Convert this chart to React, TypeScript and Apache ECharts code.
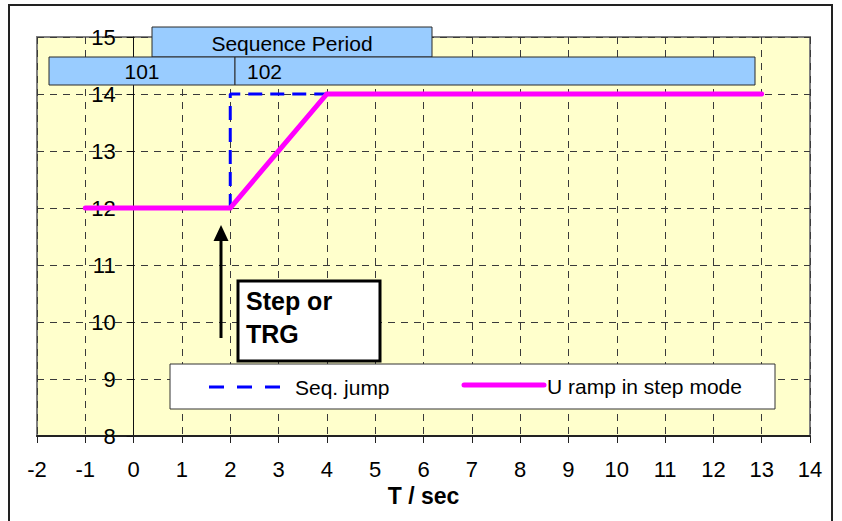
import React, { useEffect, useRef } from "react";
import * as echarts from "echarts";

const seriesNames = ["Seq. jump", "U ramp in step mode"];
const seqJumpX = [2, 2, 4];
const seqJumpY = [12, 14, 14];
const uRampX = [-1, 2, 4, 13];
const uRampY = [12, 12, 14, 14];
const periodTitle = "Sequence Period";
const periodLabels = ["101", "102"];
const noteLines = ["Step or", "TRG"];
const xName = "T / sec";
const xRange = [-2, 14];
const yRange = [8, 15];

const FONT = "Liberation Sans, Arial, sans-serif";
const GRID_LEFT = 37;
const GRID_RIGHT_PX = 810;

export default function App() {
  const ref = useRef<HTMLDivElement>(null);
  useEffect(() => {
    if (!ref.current) return;
    const chart = echarts.init(ref.current, null, { renderer: "svg" });
    const dashGrid = { show: true, lineStyle: { color: "#3a3a3a", width: 1, type: [7, 6] as any } };
    const seq = seqJumpX.map((x, i) => [x, seqJumpY[i]]);
    const ramp = uRampX.map((x, i) => [x, uRampY[i]]);
    // y axis sits at x = 0 of the x scale
    const zeroOffset = ((0 - xRange[0]) / (xRange[1] - xRange[0])) * (GRID_RIGHT_PX - GRID_LEFT);
    const txt = (text: string, x: number, y: number, size: number, align = "left", bold = false) => ({
      type: "text",
      z: 101,
      style: {
        text,
        x,
        y,
        fill: "#000",
        fontSize: size,
        fontFamily: FONT,
        fontWeight: bold ? "bold" : "normal",
        textAlign: align,
        textVerticalAlign: "middle",
      },
    });
    chart.setOption({
      animation: false,
      backgroundColor: "#ffffff",
      grid: {
        left: GRID_LEFT,
        top: 37,
        right: 842 - GRID_RIGHT_PX,
        bottom: 85,
        show: true,
        backgroundColor: "#FFFFCC",
        borderColor: "#808080",
        borderWidth: 2,
        outerBoundsMode: "none",
        containLabel: false,
      },
      xAxis: {
        type: "value",
        min: xRange[0],
        max: xRange[1],
        interval: 1,
        name: xName,
        nameLocation: "middle",
        nameGap: 42,
        nameTextStyle: { fontSize: 23, fontWeight: "bold", color: "#000", fontFamily: FONT },
        axisLine: { onZero: false, lineStyle: { color: "#222", width: 2 } },
        axisTick: { show: true, length: 7, lineStyle: { color: "#222", width: 1 } },
        axisLabel: { fontSize: 22, color: "#000", fontFamily: FONT, margin: 22 },
        splitLine: dashGrid,
      },
      yAxis: {
        type: "value",
        min: yRange[0],
        max: yRange[1],
        interval: 1,
        offset: -zeroOffset,
        axisLine: { show: true, onZero: false, lineStyle: { color: "#111", width: 1 } },
        axisTick: { show: true, length: 7, lineStyle: { color: "#111", width: 1 } },
        axisLabel: { fontSize: 22, color: "#000", fontFamily: FONT, margin: 18 },
        splitLine: dashGrid,
      },
      series: [
        {
          name: seriesNames[0],
          type: "line",
          data: seq,
          symbol: "none",
          z: 3,
          lineStyle: { color: "#0000FF", width: 3, type: [14, 8] },
        },
        {
          name: seriesNames[1],
          type: "line",
          data: ramp,
          symbol: "none",
          z: 4,
          lineStyle: { color: "#FF00FF", width: 5, cap: "round", join: "miter" },
        },
      ],
      graphic: [
        { type: "rect", z: 90, shape: { x: 9, y: 5, width: 823, height: 530 }, style: { fill: "none", stroke: "#222", lineWidth: 2 } },
        // sequence period boxes
        { type: "rect", z: 100, shape: { x: 152, y: 27, width: 280, height: 30 }, style: { fill: "#99CCFF", stroke: "#2a2a2a", lineWidth: 1 } },
        txt(periodTitle, 292, 43, 21, "center"),
        { type: "rect", z: 100, shape: { x: 49, y: 57, width: 186, height: 28 }, style: { fill: "#99CCFF", stroke: "#2a2a2a", lineWidth: 1 } },
        txt(periodLabels[0], 142, 71, 21, "center"),
        { type: "rect", z: 100, shape: { x: 235, y: 57, width: 520, height: 28 }, style: { fill: "#99CCFF", stroke: "#2a2a2a", lineWidth: 1 } },
        txt(periodLabels[1], 247, 71, 21, "left"),
        // arrow
        { type: "line", z: 100, shape: { x1: 221, y1: 338, x2: 221, y2: 236 }, style: { stroke: "#000", lineWidth: 3 } },
        { type: "polygon", z: 100, shape: { points: [[221, 225], [213.5, 241], [228.5, 241]] }, style: { fill: "#000" } },
        // note box
        { type: "rect", z: 100, shape: { x: 238, y: 281, width: 142, height: 80 }, style: { fill: "#fff", stroke: "#000", lineWidth: 3 } },
        txt(noteLines[0], 246, 301, 25, "left", true),
        txt(noteLines[1], 246, 334, 25, "left", true),
        // legend
        { type: "rect", z: 100, shape: { x: 170, y: 364, width: 605, height: 45 }, style: { fill: "#fff", stroke: "#333", lineWidth: 1 } },
        { type: "line", z: 101, shape: { x1: 209, y1: 387, x2: 283, y2: 387 }, style: { stroke: "#0000FF", lineWidth: 3, lineDash: [15, 13] } },
        txt(seriesNames[0], 295, 387, 21, "left"),
        { type: "line", z: 101, shape: { x1: 464, y1: 385, x2: 544, y2: 385 }, style: { stroke: "#FF00FF", lineWidth: 5, lineCap: "round" } },
        txt(seriesNames[1], 547, 386, 21, "left"),
      ],
    });
    return () => chart.dispose();
  }, []);
  return <div ref={ref} style={{ position: "fixed", left: 0, top: 0, width: 842, height: 521 }} />;
}
